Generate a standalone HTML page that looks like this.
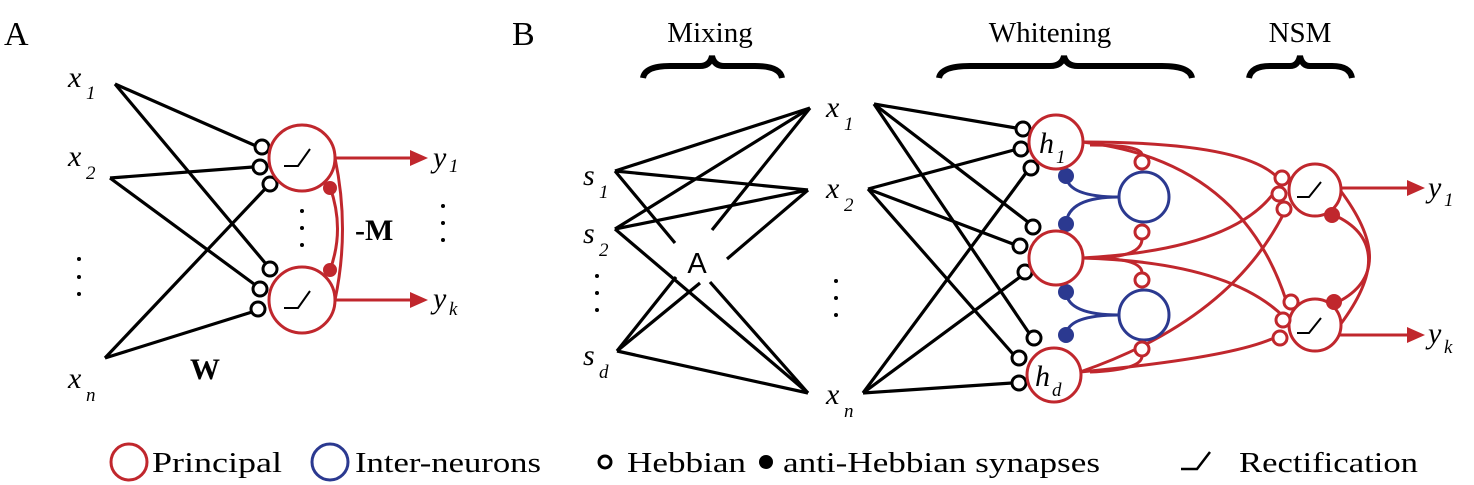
<!DOCTYPE html>
<html><head><meta charset="utf-8"></head>
<body style="margin:0;padding:0;background:#fff;">
<svg width="1474" height="485" viewBox="0 0 1474 485" style="display:block" font-family="'Liberation Serif', serif">
<g>
<text x="4" y="45" font-size="34">A</text>
<g stroke="#000" stroke-width="3.2" fill="none">
<line x1="115" y1="84" x2="256" y2="146"/><line x1="115" y1="84" x2="266" y2="264"/>
<line x1="110" y1="178" x2="253" y2="167"/><line x1="110" y1="178" x2="254" y2="284"/>
<line x1="105" y1="358" x2="265" y2="189"/><line x1="105" y1="358" x2="252" y2="312"/>
</g>
<g fill="#fff" stroke="#000" stroke-width="3">
<circle cx="262" cy="147" r="7"/><circle cx="260" cy="167" r="7"/><circle cx="270" cy="184" r="7"/>
<circle cx="270" cy="269" r="7"/><circle cx="260" cy="289" r="7"/><circle cx="258" cy="309" r="7"/>
</g>
<g stroke="#c0272d" stroke-width="3" fill="none">
<circle cx="302" cy="158" r="33"/>
<circle cx="302" cy="300" r="33"/>
<path d="M335,158 Q350,229 335,300"/>
<path d="M330,187 Q345,229 330,270"/>
<line x1="335" y1="158" x2="420" y2="158"/>
<line x1="335" y1="300" x2="420" y2="300"/>
</g>
<path d="M428,158 l-18,-8 v16 z M428,300 l-18,-8 v16 z" fill="#c0272d"/>
<circle cx="330" cy="188" r="7" fill="#c0272d"/><circle cx="330" cy="270" r="7" fill="#c0272d"/>
<g stroke="#000" stroke-width="2" fill="none">
<path d="M284,166 h14 l12,-17"/><path d="M284,308 h14 l12,-17"/>
</g>
<g fill="#000"><circle cx="302" cy="211" r="2"/><circle cx="302" cy="228" r="2"/><circle cx="302" cy="245" r="2"/>
<circle cx="443" cy="206" r="2"/><circle cx="443" cy="223" r="2"/><circle cx="443" cy="240" r="2"/>
<circle cx="79" cy="259" r="2"/><circle cx="79" cy="277" r="2"/><circle cx="79" cy="294" r="2"/></g>
<g font-style="italic">
<text x="68" y="87" font-size="30">x</text><text x="86" y="99" font-size="19">1</text>
<text x="68" y="166" font-size="30">x</text><text x="86" y="179" font-size="19">2</text>
<text x="68" y="388" font-size="30">x</text><text x="86" y="401" font-size="19">n</text>
<text x="433" y="167" font-size="30">y</text><text x="449" y="172" font-size="19">1</text>
<text x="433" y="308" font-size="30">y</text><text x="449" y="315" font-size="19">k</text>
</g>
<text x="355" y="240" font-size="30" font-weight="bold">-M</text>
<text x="190" y="379" font-size="30" font-weight="bold">W</text>
</g>

<g>
<text x="512" y="45" font-size="34">B</text>
<text x="710" y="42" font-size="29" text-anchor="middle">Mixing</text>
<text x="1050" y="42" font-size="29" text-anchor="middle">Whitening</text>
<text x="1300" y="42" font-size="29" text-anchor="middle">NSM</text>
<g stroke="#000" stroke-width="6" fill="none">
<path d="M643,78 Q645,66 670,66 H700 Q710,66 712,56 Q714,66 724,66 H755 Q780,66 782,78"/>
<path d="M939,78 Q941,66 970,66 H1050 Q1062,66 1064,56 Q1066,66 1078,66 H1162 Q1190,66 1192,78"/>
<path d="M1249,78 Q1251,66 1270,66 H1290 Q1298,66 1300,56 Q1302,66 1310,66 H1332 Q1350,66 1352,78"/>
</g>
<g stroke="#000" stroke-width="3.2" fill="none">
<line x1="615" y1="171" x2="810" y2="108"/><line x1="615" y1="171" x2="808" y2="190"/><line x1="615" y1="171" x2="675" y2="243"/>
<line x1="615" y1="229" x2="810" y2="108"/><line x1="615" y1="229" x2="808" y2="190"/><line x1="615" y1="229" x2="808" y2="393"/>
<line x1="617" y1="351" x2="676" y2="277"/><line x1="617" y1="351" x2="700" y2="283"/><line x1="617" y1="351" x2="808" y2="393"/>
<line x1="712" y1="230" x2="810" y2="108"/><line x1="727" y1="259" x2="808" y2="190"/><line x1="710" y1="282" x2="808" y2="393"/>
</g>
<text x="697" y="273" font-family="'Liberation Sans', sans-serif" font-size="29" text-anchor="middle">A</text>
<g font-style="italic">
<text x="583" y="185" font-size="30">s</text><text x="599" y="198" font-size="19">1</text>
<text x="583" y="243" font-size="30">s</text><text x="599" y="256" font-size="19">2</text>
<text x="583" y="365" font-size="30">s</text><text x="599" y="378" font-size="19">d</text>
<text x="826" y="117" font-size="30">x</text><text x="844" y="130" font-size="19">1</text>
<text x="826" y="198" font-size="30">x</text><text x="844" y="211" font-size="19">2</text>
<text x="826" y="404" font-size="30">x</text><text x="844" y="417" font-size="19">n</text>
</g>
<g fill="#000"><circle cx="597" cy="276" r="2"/><circle cx="597" cy="293" r="2"/><circle cx="597" cy="310" r="2"/>
<circle cx="836" cy="281" r="2"/><circle cx="836" cy="298" r="2"/><circle cx="836" cy="315" r="2"/></g>
<g stroke="#000" stroke-width="3.2" fill="none">
<line x1="874" y1="104" x2="1016" y2="128"/><line x1="874" y1="104" x2="1028" y2="222"/><line x1="874" y1="104" x2="1029" y2="333"/>
<line x1="868" y1="189" x2="1014" y2="150"/><line x1="868" y1="189" x2="1013" y2="244"/><line x1="868" y1="189" x2="1013" y2="354"/>
<line x1="863" y1="393" x2="1026" y2="173"/><line x1="863" y1="393" x2="1020" y2="277"/><line x1="863" y1="393" x2="1012" y2="383"/>
</g>
<g fill="#fff" stroke="#000" stroke-width="3">
<circle cx="1023" cy="129" r="7"/><circle cx="1021" cy="149" r="7"/><circle cx="1031" cy="168" r="7"/>
<circle cx="1033" cy="227" r="7"/><circle cx="1020" cy="246" r="7"/><circle cx="1025" cy="272" r="7"/>
<circle cx="1034" cy="338" r="7"/><circle cx="1019" cy="358" r="7"/><circle cx="1019" cy="383" r="7"/>
</g>
<g stroke="#c0272d" stroke-width="3" fill="none">
<path d="M1082,142 Q1240,142 1276,176"/>
<path d="M1082,142 Q1240,160 1286,300"/>
<path d="M1082,258 Q1230,250 1273,194"/>
<path d="M1082,258 Q1230,262 1285,318"/>
<path d="M1080,372 Q1230,320 1284,213"/>
<path d="M1080,372 Q1230,358 1274,338"/>
<path d="M1090,145 Q1142,145 1142,155"/><path d="M1090,258 Q1142,258 1142,239"/>
<path d="M1090,258 Q1142,258 1142,273"/><path d="M1090,372 Q1142,370 1142,356"/>
<path d="M1340,190 Q1400,270 1338,302"/>
<path d="M1340,325 Q1400,245 1334,215"/>
<line x1="1340" y1="188" x2="1415" y2="188"/><line x1="1340" y1="335" x2="1415" y2="335"/>
</g>
<path d="M1425,188 l-18,-8 v16 z M1425,335 l-18,-8 v16 z" fill="#c0272d"/>
<g stroke="#2b3990" stroke-width="3" fill="none">
<circle cx="1144" cy="197" r="25"/><circle cx="1144" cy="315" r="25"/>
<path d="M1066,176 Q1068,197 1119,197"/><path d="M1066,224 Q1068,197 1119,197"/>
<path d="M1066,292 Q1068,315 1119,315"/><path d="M1066,335 Q1068,315 1119,315"/>
</g>
<g fill="#2b3990"><circle cx="1066" cy="176" r="8"/><circle cx="1066" cy="224" r="8"/><circle cx="1066" cy="292" r="8"/><circle cx="1066" cy="335" r="8"/></g>
<g stroke="#c0272d" stroke-width="3" fill="#fff">
<circle cx="1056" cy="142" r="27"/><circle cx="1056" cy="258" r="27"/><circle cx="1054" cy="375" r="27"/>
<circle cx="1315" cy="190" r="26"/><circle cx="1315" cy="325" r="26"/>
<circle cx="1142" cy="162" r="7"/><circle cx="1142" cy="232" r="7"/><circle cx="1142" cy="280" r="7"/><circle cx="1142" cy="349" r="7"/>
<circle cx="1282" cy="178" r="7"/><circle cx="1279" cy="194" r="7"/><circle cx="1284" cy="209" r="7"/>
<circle cx="1291" cy="302" r="7"/><circle cx="1283" cy="320" r="7"/><circle cx="1280" cy="338" r="7"/>
</g>
<circle cx="1332" cy="215" r="8" fill="#c0272d"/><circle cx="1334" cy="302" r="8" fill="#c0272d"/>
<g stroke="#000" stroke-width="2" fill="none"><path d="M1297,197 h12 l12,-15"/><path d="M1297,333 h12 l12,-15"/></g>
<g font-style="italic">
<text x="1039" y="153" font-size="30">h</text><text x="1056" y="163" font-size="19">1</text>
<text x="1035" y="386" font-size="30">h</text><text x="1052" y="396" font-size="19">d</text>
<text x="1428" y="197" font-size="30">y</text><text x="1444" y="206" font-size="19">1</text>
<text x="1428" y="343" font-size="30">y</text><text x="1444" y="353" font-size="19">k</text>
</g>
</g>

<g>
<circle cx="129" cy="462" r="18" fill="none" stroke="#c0272d" stroke-width="3"/>
<text x="152" y="472" font-size="29" textLength="130" lengthAdjust="spacingAndGlyphs">Principal</text>
<circle cx="330" cy="462" r="18" fill="none" stroke="#2b3990" stroke-width="3"/>
<text x="355" y="472" font-size="29" textLength="186" lengthAdjust="spacingAndGlyphs">Inter-neurons</text>
<circle cx="605" cy="462" r="6" fill="#fff" stroke="#000" stroke-width="3"/>
<text x="627" y="472" font-size="29" textLength="119" lengthAdjust="spacingAndGlyphs">Hebbian</text>
<circle cx="766" cy="462" r="7" fill="#000"/>
<text x="783" y="472" font-size="29" textLength="317" lengthAdjust="spacingAndGlyphs">anti-Hebbian synapses</text>
<path d="M1181,469 h16 l13,-17" stroke="#000" stroke-width="2.5" fill="none"/>
<text x="1239" y="472" font-size="29" textLength="179" lengthAdjust="spacingAndGlyphs">Rectification</text>
</g>
</svg>
</body></html>
